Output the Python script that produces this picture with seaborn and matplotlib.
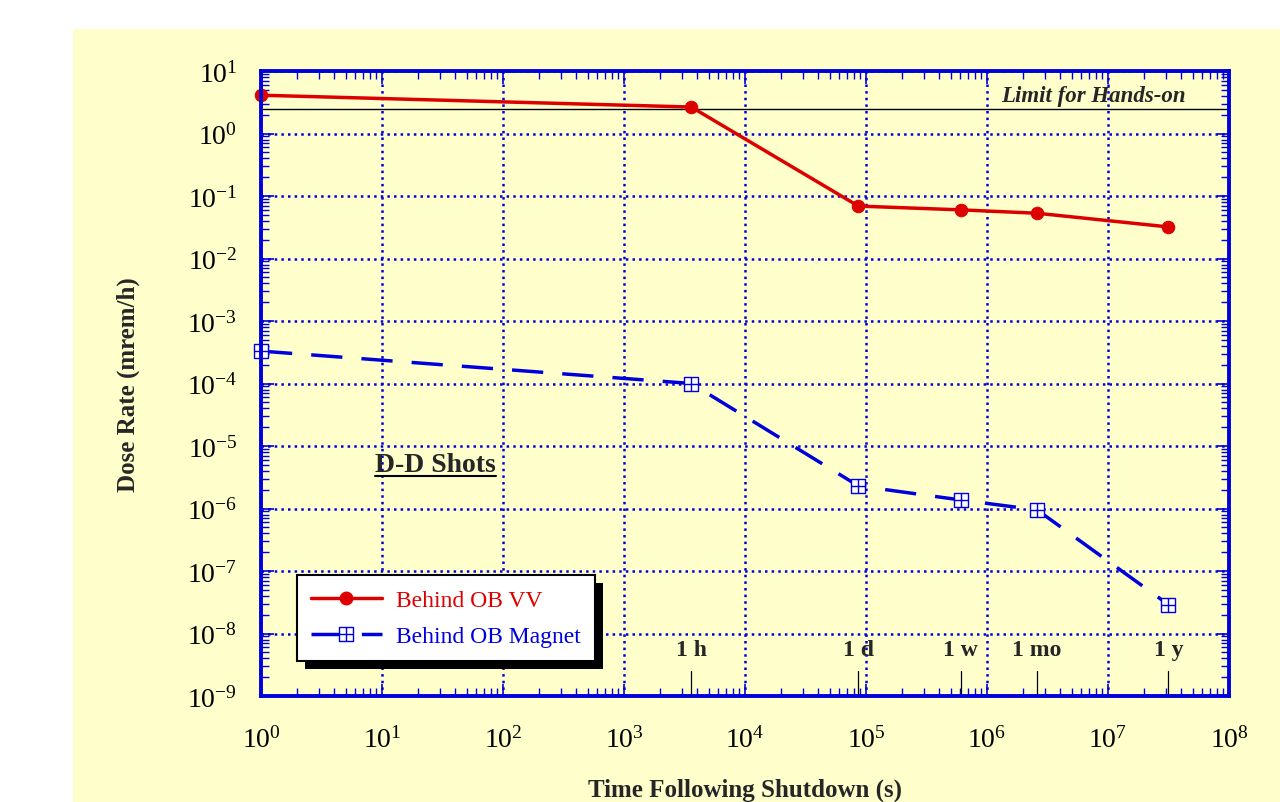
import numpy as np
import pandas as pd
import matplotlib
matplotlib.use('Agg')
import matplotlib.pyplot as plt
from matplotlib.path import Path
from matplotlib.patches import Rectangle
from matplotlib.lines import Line2D
from matplotlib.ticker import LogLocator, LogFormatterSciNotation, NullFormatter
import seaborn as sns

# ==========================================================
# DATA
# ==========================================================

TIME_S = [1, 3600, 86400, 604800, 2.592e6, 3.156e7]
DOSE_VV = [4.1, 2.65, 0.069, 0.060, 0.053, 0.032]
DOSE_MAGNET = [3.3e-4, 1.0e-4, 2.3e-6, 1.37e-6, 9.5e-7, 2.9e-8]
SERIES_NAMES = ["Behind OB VV", "Behind OB Magnet"]

HANDS_ON_LIMIT = 2.5
MARK_TIMES = [3600, 86400, 604800, 2.592e6, 3.156e7]
MARK_LABELS = ["1 h", "1 d", "1 w", "1 mo", "1 y"]

RED = "#dd0000"
BLUE = "#0000dd"
BG = "#ffffcc"

# ==========================================================
# STYLE
# ==========================================================

sns.set_style("ticks")
plt.rcParams['font.family'] = ['Liberation Serif', 'DejaVu Serif']
plt.rcParams['mathtext.fontset'] = 'custom'
plt.rcParams['mathtext.rm'] = 'Liberation Serif'
plt.rcParams['mathtext.it'] = 'Liberation Serif:italic'
plt.rcParams['mathtext.bf'] = 'Liberation Serif:bold'

fig = plt.figure(figsize=(12.8, 8.03), dpi=100, facecolor='white')
fig.patches.append(Rectangle((73 / 1280, 0), 1, 1 - 30 / 803, transform=fig.transFigure,
                             facecolor=BG, edgecolor='none', zorder=-10))
ax = fig.add_axes([261 / 1280, 1 - 697 / 803, 968 / 1280, 625 / 803])
ax.set_facecolor(BG)
ax.set_xscale('log')
ax.set_yscale('log')

df = pd.DataFrame({
    "time": TIME_S * 2,
    "dose": DOSE_VV + DOSE_MAGNET,
    "series": [SERIES_NAMES[0]] * len(TIME_S) + [SERIES_NAMES[1]] * len(TIME_S),
})

# square with a cross inside
box_plus = Path(
    [(-1, -1), (1, -1), (1, 1), (-1, 1), (-1, -1), (-1, 0), (1, 0), (0, -1), (0, 1)],
    [Path.MOVETO, Path.LINETO, Path.LINETO, Path.LINETO, Path.CLOSEPOLY,
     Path.MOVETO, Path.LINETO, Path.MOVETO, Path.LINETO],
)

sns.lineplot(data=df[df.series == SERIES_NAMES[0]], x="time", y="dose", ax=ax,
             color=RED, lw=2.5, marker='o', markersize=9, markeredgecolor=RED,
             legend=False, zorder=5, clip_on=False)
sns.lineplot(data=df[df.series == SERIES_NAMES[1]], x="time", y="dose", ax=ax,
             color=BLUE, lw=2.5, dashes=(9, 5.5), legend=False, zorder=5, clip_on=False)
ax.plot(TIME_S, DOSE_MAGNET, ls='none', marker=box_plus, markersize=10,
        markerfacecolor='white', markeredgecolor=BLUE, markeredgewidth=1.0,
        zorder=6, clip_on=False)

# hands-on limit
ax.axhline(HANDS_ON_LIMIT, color='black', lw=1.0, zorder=4)
ax.text(0.955, HANDS_ON_LIMIT * 1.1, "Limit for Hands-on", transform=ax.get_yaxis_transform(),
        ha='right', va='bottom', fontsize=16.5, fontweight='bold', fontstyle='italic')

# time markers
for t, lab in zip(MARK_TIMES, MARK_LABELS):
    ax.plot([t, t], [1e-9, 10 ** -8.6], color='black', lw=0.9, zorder=4)
    ax.text(t, 10 ** -8.25, lab, ha='center', va='center', fontsize=17, fontweight='bold')

ax.set_xlim(1, 1e8)
ax.set_ylim(1e-9, 10)

ax.xaxis.set_major_locator(LogLocator(base=10, numticks=20))
ax.yaxis.set_major_locator(LogLocator(base=10, numticks=20))
ax.xaxis.set_minor_locator(LogLocator(base=10, subs=np.arange(2, 10), numticks=20))
ax.yaxis.set_minor_locator(LogLocator(base=10, subs=np.arange(2, 10), numticks=20))
ax.xaxis.set_major_formatter(LogFormatterSciNotation())
ax.yaxis.set_major_formatter(LogFormatterSciNotation())
ax.xaxis.set_minor_formatter(NullFormatter())
ax.yaxis.set_minor_formatter(NullFormatter())

ax.tick_params(which='both', direction='in', top=True, right=True, color=BLUE,
               labelsize=20, labelcolor='black')
ax.tick_params(which='major', length=9, width=1.2)
ax.tick_params(axis='x', which='major', pad=22)
ax.tick_params(axis='y', which='major', pad=17)
ax.tick_params(which='minor', length=6, width=1.0)

ax.grid(True, which='major', color=BLUE, ls=':', lw=1.8)
for s in ax.spines.values():
    s.set_color(BLUE)
    s.set_linewidth(2.8)
    s.set_zorder(7)

ax.set_xlabel("Time Following Shutdown (s)", fontsize=18, fontweight='bold', labelpad=18)
ax.set_ylabel("Dose Rate (mrem/h)", fontsize=18, fontweight='bold', labelpad=34)

# D-D Shots label, underlined
dd = ax.text(0.118, 0.37, "D-D Shots", transform=ax.transAxes, ha='left', va='center',
             fontsize=20, fontweight='bold')

handles = [
    Line2D([], [], color=RED, lw=2.5, marker='o', markersize=9),
    Line2D([], [], color=BLUE, lw=2.5, dashes=(9, 5.5), marker=box_plus, markersize=10,
           markerfacecolor='white', markeredgecolor=BLUE, markeredgewidth=1.0),
]
leg = ax.legend(handles, SERIES_NAMES, loc='lower left', bbox_to_anchor=(0.037, 0.056),
                fontsize=17, frameon=True, fancybox=False, edgecolor='black',
                facecolor='white', framealpha=1, handlelength=3.0, handletextpad=0.6,
                borderpad=0.6, labelspacing=0.6, borderaxespad=0)
leg.get_frame().set_linewidth(1.5)
leg.set_zorder(10)
for txt, c in zip(leg.get_texts(), [RED, BLUE]):
    txt.set_color(c)

fig.canvas.draw()
bb = dd.get_window_extent().transformed(fig.transFigure.inverted())
fig.add_artist(Line2D([bb.x0, bb.x1], [bb.y0 + 0.002, bb.y0 + 0.002], color='black', lw=1.5,
                      transform=fig.transFigure))

# thick black drop shadow behind the legend
lb = leg.get_window_extent()
ax.add_artist(Rectangle((lb.x0 + 8, lb.y0 - 8), lb.width, lb.height, transform=None,
                        facecolor='black', edgecolor='none', zorder=9.5))

fig.savefig("out.png", dpi=100, facecolor='white')
